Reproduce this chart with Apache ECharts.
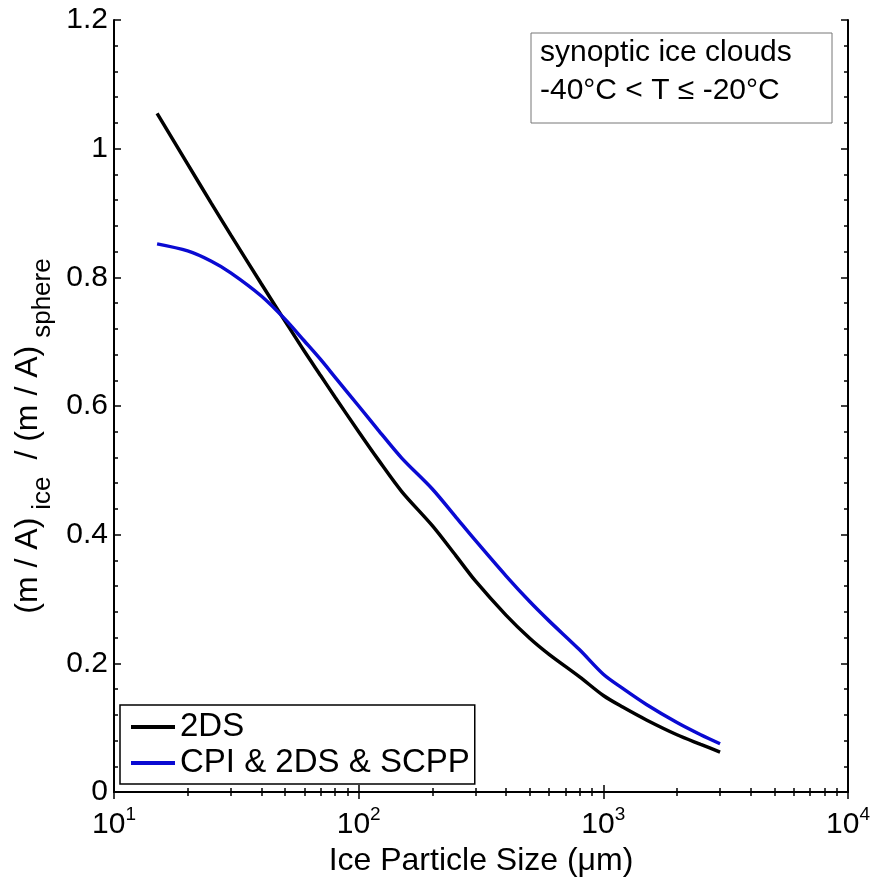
<!DOCTYPE html>
<html>
<head>
<meta charset="utf-8">
<script src="https://cdn.jsdelivr.net/npm/echarts@6/dist/echarts.min.js"></script>
<style>
html, body { margin: 0; padding: 0; background: #fff; }
#main { width: 876px; height: 882px; }
</style>
</head>
<body>
<div id="main"></div>
<script>
// particle size (um) and mass/area ratio
var sizeUm = [15, 20, 25, 30, 40, 50, 60, 70, 80, 100, 120, 150, 200, 250, 300, 400, 500, 600, 800, 1000, 1200, 1500, 2000, 2500, 3000];
var ratio2DS = [1.055, 0.976, 0.915, 0.866, 0.790, 0.732, 0.685, 0.647, 0.614, 0.560, 0.517, 0.467, 0.414, 0.367, 0.328, 0.275, 0.239, 0.214, 0.179, 0.150, 0.132, 0.112, 0.089, 0.074, 0.062];
var ratioAll = [0.852, 0.841, 0.825, 0.807, 0.771, 0.735, 0.701, 0.672, 0.645, 0.600, 0.563, 0.519, 0.471, 0.427, 0.391, 0.336, 0.296, 0.266, 0.221, 0.183, 0.161, 0.136, 0.108, 0.089, 0.075];
var seriesNames = ['2DS', 'CPI & 2DS & SCPP'];
var seriesColors = ['#000000', '#0a0ad2'];
var noteLines = ['synoptic ice clouds', '-40°C < T ≤ -20°C'];

var font = 'Liberation Sans, Arial, sans-serif';
var chart = echarts.init(document.getElementById('main'));

function pairs(xs, ys) {
	var out = [];
	for (var i = 0; i < xs.length; i++) out.push([xs[i], ys[i]]);
	return out;
}

function logAxis(pos, extra) {
	var ax = {
		type: 'log',
		logBase: 10,
		position: pos,
		min: 10,
		max: 10000,
		splitLine: {show: false},
		axisLine: {show: true, lineStyle: {color: '#000', width: 2}},
		axisTick: {show: true, inside: true, length: 7, lineStyle: {color: '#000', width: 1.5}},
		minorTick: {show: true, splitNumber: 9, length: 4, lineStyle: {color: '#000', width: 1.5}},
		axisLabel: {show: false}
	};
	for (var k in extra) ax[k] = extra[k];
	return ax;
}

function yAxisOf(pos, showLabel) {
	return {
		type: 'value',
		position: pos,
		min: 0,
		max: 1.2,
		interval: 0.2,
		splitLine: {show: false},
		axisLine: {show: true, lineStyle: {color: '#000', width: 2}},
		axisTick: {show: true, inside: true, length: 7, lineStyle: {color: '#000', width: 1.5}},
		minorTick: {show: true, splitNumber: 5, length: 4, lineStyle: {color: '#000', width: 1.5}},
		axisLabel: {show: showLabel, fontSize: 30, fontFamily: font, color: '#000', margin: 6}
	};
}

var option = {
	animation: false,
	backgroundColor: '#fff',
	grid: {left: 114, top: 20, right: 28, bottom: 90},
	xAxis: [
		logAxis('bottom', {
			name: 'Ice Particle Size (μm)',
			nameLocation: 'middle',
			nameGap: 53,
			nameTextStyle: {fontSize: 32, fontFamily: font, color: '#000'},
			axisLabel: {
				show: true,
				margin: 13,
				color: '#000',
				fontFamily: font,
				formatter: function (v) {
					return '{b|10}{s|' + Math.round(Math.log10(v)) + '}';
				},
				rich: {
					b: {fontSize: 30, fontFamily: font, color: '#000', lineHeight: 39},
					s: {fontSize: 19, fontFamily: font, color: '#000', lineHeight: 19, verticalAlign: 'top'}
				}
			}
		}),
		logAxis('top', {})
	],
	yAxis: [
		yAxisOf('left', true),
		yAxisOf('right', false)
	],
	legend: {
		data: seriesNames,
		orient: 'vertical',
		left: 120,
		top: 705,
		icon: 'rect',
		itemWidth: 44,
		itemHeight: 4,
		itemGap: 0,
		padding: [4, 5, 3, 11],
		backgroundColor: '#fff',
		borderColor: '#000',
		borderWidth: 1.5,
		selectedMode: false,
		textStyle: {fontSize: 33, fontFamily: font, color: '#000', lineHeight: 36}
	},
	graphic: [
		{
			type: 'rect',
			shape: {x: 531, y: 33, width: 301, height: 90},
			style: {fill: '#fff', stroke: '#777', lineWidth: 1},
			z: 10
		},
		{
			type: 'text',
			x: 540,
			y: 72,
			z: 11,
			style: {
				text: noteLines.join('\n'),
				fontSize: 30,
				fontFamily: font,
				fill: '#000',
				lineHeight: 38,
				verticalAlign: 'middle'
			}
		},
		{
			type: 'text',
			x: 28,
			y: 436,
			rotation: Math.PI / 2,
			style: {
				text: '{m|(m / A)}{u|ice}{m| / (m / A)}{v|sphere}',
				align: 'center',
				verticalAlign: 'middle',
				rich: {
					m: {fontSize: 32, fontFamily: font, fill: '#000', lineHeight: 56},
					u: {fontSize: 26, fontFamily: font, fill: '#000', lineHeight: 26, verticalAlign: 'bottom', padding: [0, 8, 0, 8]},
					v: {fontSize: 26, fontFamily: font, fill: '#000', lineHeight: 26, verticalAlign: 'bottom', padding: [0, 0, 0, 8]}
				}
			}
		}
	],
	series: [
		{
			name: seriesNames[0],
			type: 'line',
			showSymbol: false,
			smooth: 0.3,
			color: seriesColors[0],
			lineStyle: {width: 3.5, color: seriesColors[0]},
			data: pairs(sizeUm, ratio2DS)
		},
		{
			name: seriesNames[1],
			type: 'line',
			showSymbol: false,
			smooth: 0.3,
			color: seriesColors[1],
			lineStyle: {width: 3.5, color: seriesColors[1]},
			data: pairs(sizeUm, ratioAll)
		}
	]
};
chart.setOption(option);
</script>
</body>
</html>
